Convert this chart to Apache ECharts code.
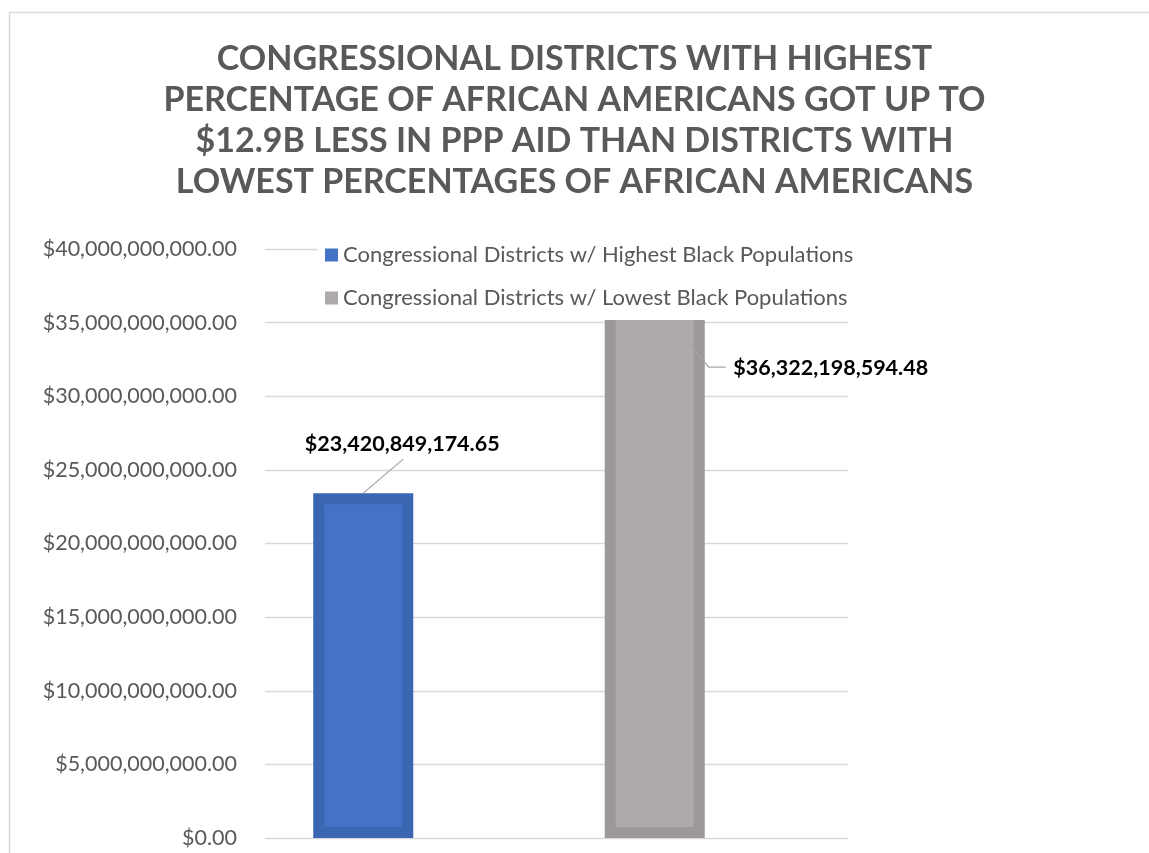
<!DOCTYPE html>
<html>
<head>
<meta charset="utf-8">
<script src="https://cdn.jsdelivr.net/npm/echarts@6/dist/echarts.min.js"></script>
<style>
html,body{margin:0;padding:0;background:#fff;}
#chart{width:1149px;height:853px;}
</style>
</head>
<body>
<div id="chart"></div>
<script>
const titleText = 'CONGRESSIONAL DISTRICTS WITH HIGHEST\nPERCENTAGE OF AFRICAN AMERICANS GOT UP TO\n$12.9B LESS IN PPP AID THAN DISTRICTS WITH\nLOWEST PERCENTAGES OF AFRICAN AMERICANS';
const categories = ['Highest', 'Lowest'];
const seriesNames = ['Congressional Districts w/ Highest Black Populations', 'Congressional Districts w/ Lowest Black Populations'];
const highestValues = [23420849174.65, '-'];
const lowestValues = ['-', 36322198594.48];
const yMin = 0, yMax = 40000000000, yInterval = 5000000000;

const FONT = 'Lato';
const fmtMoney = v => '$' + Number(v).toLocaleString('en-US', {minimumFractionDigits: 2, maximumFractionDigits: 2});

const chart = echarts.init(document.getElementById('chart'));
const labelOffsets = [[39, -33], [176, 81]];

chart.setOption({
  animation: false,
  backgroundColor: '#fff',
  title: {
    text: titleText,
    left: 'center',
    top: 39,
    padding: 0,
    textStyle: {fontFamily: FONT, fontWeight: 'bold', fontSize: 34, lineHeight: 41, color: '#595959'}
  },
  legend: {
    orient: 'vertical',
    left: 318,
    top: 232,
    padding: [12, 6, 11, 7],
    itemGap: 21,
    itemWidth: 13,
    itemHeight: 13,
    icon: 'rect',
    backgroundColor: '#fff',
    z: 10,
    itemStyle: {borderWidth: 0},
    textStyle: {fontFamily: FONT, fontSize: 22, color: '#595959'},
    data: seriesNames
  },
  grid: [
    {left: 265, right: 301, top: 249, bottom: 15},
    {left: 217.5, right: 348.5, top: 249, bottom: 15}
  ],
  xAxis: [
    {type: 'category', gridIndex: 0, data: categories, show: false},
    {type: 'category', gridIndex: 1, data: categories, show: false}
  ],
  yAxis: [
    {
      type: 'value', gridIndex: 0, min: yMin, max: yMax, interval: yInterval,
      axisLine: {show: false}, axisTick: {show: false},
      axisLabel: {margin: 28, fontFamily: FONT, fontSize: 21.5, color: '#595959', formatter: fmtMoney},
      splitLine: {lineStyle: {color: '#d9d9d9', width: 1.3}}
    },
    {type: 'value', gridIndex: 1, min: yMin, max: yMax, interval: yInterval, show: false, splitLine: {show: false}}
  ],
  series: [
    {
      name: seriesNames[0], type: 'bar', xAxisIndex: 1, yAxisIndex: 1,
      data: highestValues, barWidth: 100, barGap: '-100%',
      itemStyle: {color: '#4472C4', borderColor: '#3A66B2', borderWidth: 11},
      label: {show: true, position: 'top', offset: labelOffsets[0], fontFamily: FONT, fontWeight: 'bold', fontSize: 21.5, color: '#000', formatter: p => fmtMoney(p.value)}
    },
    {
      name: seriesNames[1], type: 'bar', xAxisIndex: 1, yAxisIndex: 1,
      data: lowestValues, barWidth: 100, barGap: '-100%',
      itemStyle: {color: '#ADAAA9', borderColor: '#9C9998', borderWidth: 11},
      label: {show: true, position: 'top', offset: labelOffsets[1], fontFamily: FONT, fontWeight: 'bold', fontSize: 21.5, color: '#000', formatter: p => fmtMoney(p.value)}
    }
  ],
  graphic: [
    {id: 'frame', type: 'rect', left: 7, top: 10, z: 0, silent: true,
     shape: {width: 1200, height: 900}, style: {fill: 'none', stroke: '#d9d9d9', lineWidth: 1.5}}
  ]
});

// leader lines from bar tops (via library scales) to labels
const p0 = chart.convertToPixel({xAxisIndex: 1, yAxisIndex: 1}, [0, highestValues[0]]);
const p1 = chart.convertToPixel({xAxisIndex: 1, yAxisIndex: 1}, [1, lowestValues[1]]);
chart.setOption({
  graphic: [
    {id: 'lead0', type: 'polyline', z: 5, silent: true,
     shape: {points: [[p0[0], p0[1]], [p0[0] + 40, p0[1] - 34]]},
     style: {stroke: '#a6a6a6', lineWidth: 1.3, fill: null}},
    {id: 'lead1', type: 'polyline', z: 5, silent: true,
     shape: {points: [[p1[0], p1[1]], [p1[0] + 54, p1[1] + 64], [p1[0] + 71, p1[1] + 64]]},
     style: {stroke: '#a6a6a6', lineWidth: 1.3, fill: null}}
  ]
});
</script>
</body>
</html>
